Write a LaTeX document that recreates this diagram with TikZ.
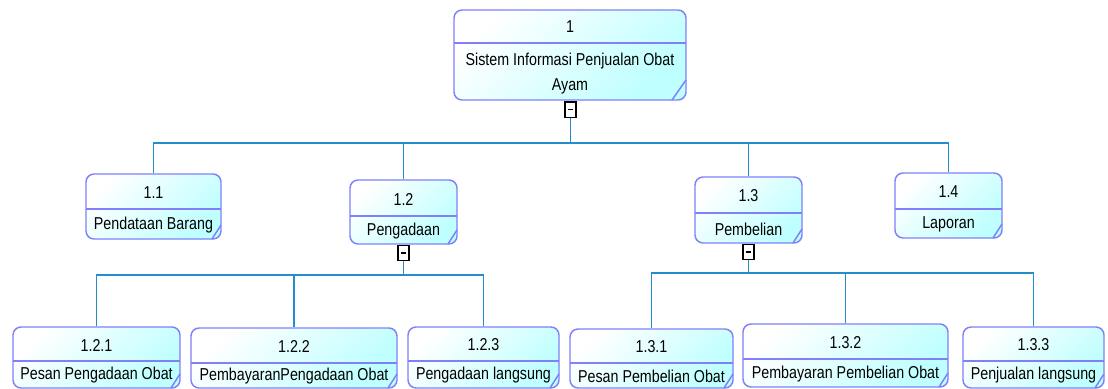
\documentclass[tikz,border=0pt]{standalone}
\usepackage{fontspec}
\setmainfont{Liberation Sans}[FakeStretch=0.83]
\usetikzlibrary{fit}
\definecolor{bordc}{RGB}{128,128,250}
\definecolor{fillc}{RGB}{190,255,255}
\definecolor{connc}{RGB}{36,142,204}
\tikzset{
  pbox/.style={draw=bordc, line width=1.1pt, rounded corners=6pt, inner sep=0pt,
    top color=white, bottom color=fillc, shading angle=45},
  bline/.style={draw=bordc, line width=1.1pt},
  conn/.style={draw=connc, line width=1.1pt},
  txt/.style={inner sep=0pt, text=black, align=center, font=\fontsize{12.9pt}{18.75pt}\selectfont},
  minusbox/.style={draw=black, fill=white, line width=1pt, minimum width=8.2pt, minimum height=11.5pt, inner sep=0pt,
    path picture={\draw[line width=1.4pt] ([xshift=-2.2pt]path picture bounding box.center) -- ([xshift=2.2pt]path picture bounding box.center);}}
}
% name, x1, y1, x2, y2, ydiv, number, label
\newcommand\pboxdraw[8]{%
  \node[pbox, fit={(#2,#3)(#4,#5)}] (#1) {};
  \draw[bline] (#2,#6) -- (#4,#6);
  \draw[bline] (#4,{#5-14}) -- ({#4-9},#5);
  \node[txt] (#1-num) at ({(#2+#4)/2},{(#3+#6)/2+1}) {#7};
  \node[txt] (#1-lab) at ({(#2+#4)/2},{(#6+#5)/2+1}) {#8};
}
\begin{document}
\begin{tikzpicture}[x=0.75pt,y=-0.75pt]
\useasboundingbox (0,0) rectangle (1108,389);
% top node
\node[pbox, fit={(454,10)(686,100)}] (n1) {};
\draw[bline] (454,43) -- (686,43);
\draw[bline] (686,80) -- (672,100);
\node[txt] (n1-num) at (570,27) {1};
\node[txt] (n1-lab) at (570,74) {Sistem Informasi Penjualan Obat\\Ayam};
% level 1
\pboxdraw{n11}{86}{174}{221}{239}{209}{1.1}{Pendataan Barang}
\pboxdraw{n12}{350}{180}{457}{244}{216}{1.2}{Pengadaan}
\pboxdraw{n13}{695}{177}{802}{243}{213}{1.3}{Pembelian}
\pboxdraw{n14}{895}{173}{1002}{238}{209}{1.4}{Laporan}
% level 2
\pboxdraw{n121}{13}{327}{180}{388}{361}{1.2.1}{Pesan Pengadaan Obat}
\pboxdraw{n122}{191}{328}{397}{388}{363}{1.2.2}{PembayaranPengadaan Obat}
\pboxdraw{n123}{408}{327}{559}{388}{361}{1.2.3}{Pengadaan langsung}
\pboxdraw{n131}{570}{329}{733}{388}{363}{1.3.1}{Pesan Pembelian Obat}
\pboxdraw{n132}{743}{324}{948}{387}{359}{1.3.2}{Pembayaran Pembelian Obat}
\pboxdraw{n133}{963}{327}{1104}{388}{361}{1.3.3}{Penjualan langsung}
% minus boxes
\node[minusbox] (m1) at (570.5,109.5) {};
\node[minusbox] (m12) at (403.5,253) {};
\node[minusbox] (m13) at (748.5,252) {};
% buses
\coordinate (b1) at (570.5,143);
\coordinate (b12) at (403.5,275);
\coordinate (b13) at (748.5,273);
\draw[conn] (m1.south) -- (b1);
\draw[conn] (b1) -| (n11.north);
\draw[conn] (b1) -| (n12.north);
\draw[conn] (b1) -| (n13.north);
\draw[conn] (b1) -| (n14.north);
\draw[conn] (m12.south) -- (b12);
\draw[conn] (b12) -| (n121.north);
\draw[conn] (b12) -| (n122.north);
\draw[conn] (b12) -| (n123.north);
\draw[conn] (m13.south) -- (b13);
\draw[conn] (b13) -| (n131.north);
\draw[conn] (b13) -| (n132.north);
\draw[conn] (b13) -| (n133.north);
\end{tikzpicture}
\end{document}
